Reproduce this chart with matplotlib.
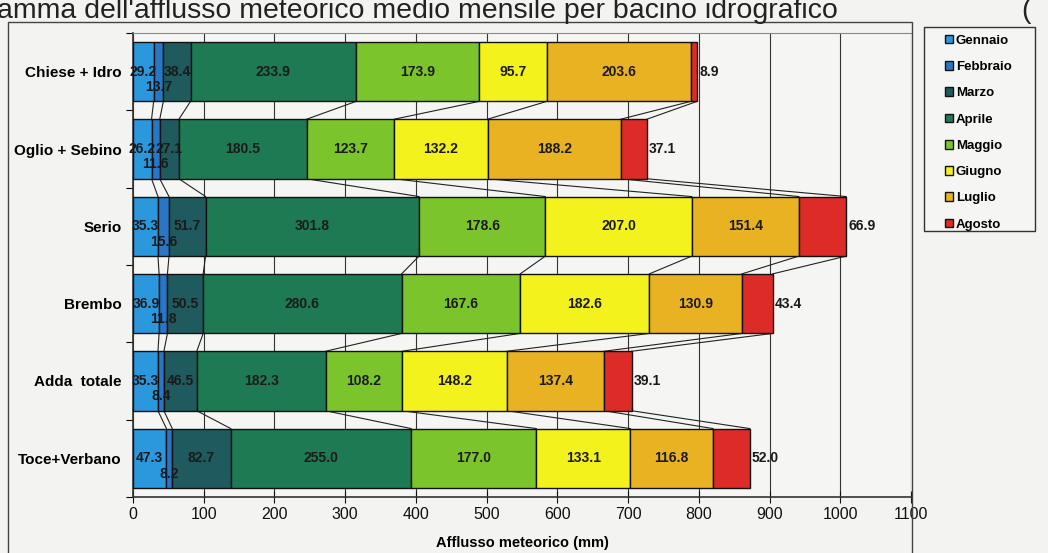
import numpy as np
import matplotlib.pyplot as plt
from matplotlib.patches import Rectangle

plt.rcParams['font.family'] = ['Liberation Sans', 'DejaVu Sans']

basins = ["Chiese + Idro", "Oglio + Sebino", "Serio", "Brembo", "Adda  totale", "Toce+Verbano"]
months = ["Gennaio", "Febbraio", "Marzo", "Aprile", "Maggio", "Giugno", "Luglio", "Agosto"]

gennaio = [29.2, 26.2, 35.3, 36.9, 35.3, 47.3]
febbraio = [13.7, 11.6, 15.6, 11.8, 8.4, 8.2]
marzo = [38.4, 27.1, 51.7, 50.5, 46.5, 82.7]
aprile = [233.9, 180.5, 301.8, 280.6, 182.3, 255.0]
maggio = [173.9, 123.7, 178.6, 167.6, 108.2, 177.0]
giugno = [95.7, 132.2, 207.0, 182.6, 148.2, 133.1]
luglio = [203.6, 188.2, 151.4, 130.9, 137.4, 116.8]
agosto = [8.9, 37.1, 66.9, 43.4, 39.1, 52.0]

colors = ["#2b97dd", "#2a76c6", "#1f5a5e", "#1e7a53", "#7cc42b", "#f4f21c", "#e8b222", "#dd2b27"]
xticks = [0, 100, 200, 300, 400, 500, 600, 700, 800, 900, 1000, 1100]

data = np.array([gennaio, febbraio, marzo, aprile, maggio, giugno, luglio, agosto])
starts = np.vstack([np.zeros(len(basins)), np.cumsum(data, axis=0)[:-1]])
ends = np.cumsum(data, axis=0)

W, H = 1048, 553
fig = plt.figure(figsize=(W / 100, H / 100), dpi=100)
fig.patch.set_facecolor("#f3f3f1")

# title, cut off at the top edge like the scan
fig.text(-0.003, 1 - 18 / H, "amma dell'afflusso meteorico medio mensile per bacino idrografico",
         fontsize=20.5, color="#222222", va="baseline", ha="left")
fig.text(1 - 27 / W, 1 - 18 / H, "(", fontsize=20.5, color="#222222", va="baseline")

# chart area border and legend box
fig.add_artist(Rectangle((8 / W, -0.01), (912 - 8) / W, 1 - 22 / H + 0.01, transform=fig.transFigure,
                         fill=False, edgecolor="#444444", lw=1.0))
fig.add_artist(Rectangle((924 / W, 1 - 231 / H), (1035 - 924) / W, (231 - 27) / H,
                         transform=fig.transFigure, facecolor="#f5f5f3", edgecolor="#333333", lw=1.0))

ax = fig.add_axes([133 / W, 1 - 497 / H, 778 / W, (497 - 33) / H])
ax.set_facecolor("#f5f5f3")
bar_h = 0.77
y = np.arange(len(basins))

for k in range(len(months)):
    ax.barh(y, data[k], left=starts[k], height=bar_h, color=colors[k],
            edgecolor="#111111", linewidth=1.0, label=months[k], zorder=3)

# series lines between adjacent bars
for i in range(len(basins) - 1):
    for k in range(len(months)):
        ax.plot([ends[k, i], ends[k, i + 1]], [i + bar_h / 2, i + 1 - bar_h / 2],
                color="#222222", lw=0.8, zorder=2)

# data labels
for i in range(len(basins)):
    for k in range(len(months)):
        v = data[k, i]
        cx = starts[k, i] + v / 2
        if k == 1:
            ax.text(cx, i + 0.2, f"{v:.1f}", ha="center", va="center", fontsize=10,
                    fontweight="bold", color="#1a1a1a", zorder=4)
        elif k == 7:
            ax.text(ends[k, i] + 3, i, f"{v:.1f}", ha="left", va="center", fontsize=10,
                    fontweight="bold", color="#1a1a1a", zorder=4)
        else:
            ax.text(cx, i, f"{v:.1f}", ha="center", va="center", fontsize=10,
                    fontweight="bold", color="#1a1a1a", zorder=4)

ax.set_xlim(0, 1100)
ax.set_ylim(len(basins) - 0.5, -0.5)
ax.set_xticks(xticks)
ax.set_xticklabels([str(t) for t in xticks], fontsize=11.5)
ax.tick_params(axis="x", direction="inout", length=8, width=0.8, pad=3, colors="#111111")
ax.set_yticks(y)
ax.set_yticklabels(basins, fontsize=11, fontweight="bold")
ax.set_yticks(np.arange(len(basins) + 1) - 0.5, minor=True)
ax.tick_params(axis="y", which="major", length=0, pad=8)
ax.tick_params(axis="y", which="minor", length=5, width=0.8, direction="out")
ax.xaxis.grid(True, color="#333333", lw=0.8, zorder=0)
ax.set_axisbelow(True)
for side in ["left", "bottom"]:
    ax.spines[side].set_color("#333333")
    ax.spines[side].set_linewidth(1.2)
ax.spines["top"].set_color("#888888")
ax.spines["right"].set_visible(False)
ax.set_xlabel("Afflusso meteorico (mm)", fontsize=10.5, fontweight="bold", labelpad=10)

handles = [Rectangle((0, 0), 1, 1, facecolor=c, edgecolor="#111111", lw=1.0) for c in colors]
leg = fig.legend(handles, months, loc="upper left", bbox_to_anchor=(942 / W, 1 - 32 / H),
                 frameon=False, prop={"weight": "bold", "size": 9.5}, handlelength=0.65,
                 handleheight=0.65, handletextpad=0.2, labelspacing=1.08, borderpad=0.2,
                 borderaxespad=0)

fig.savefig("out.png", dpi=100, facecolor=fig.get_facecolor())
